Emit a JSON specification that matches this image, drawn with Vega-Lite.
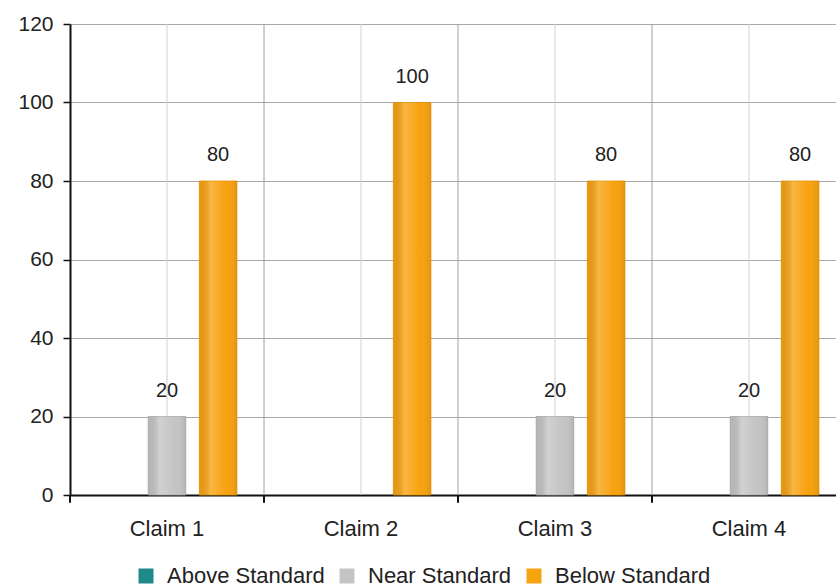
{
  "$schema": "https://vega.github.io/schema/vega-lite/v6.json",
  "width": 766,
  "height": 471,
  "autosize": "none",
  "padding": {"left": 70, "top": 24, "right": 0, "bottom": 93},
  "config": {
    "font": "Liberation Sans",
    "view": {"stroke": null},
    "axis": {"labelColor": "#222222", "labelFont": "Liberation Sans"}
  },
  "data": {
    "values": [
      {"claim": "Claim 1", "level": "Above Standard", "value": 0},
      {"claim": "Claim 1", "level": "Near Standard", "value": 20},
      {"claim": "Claim 1", "level": "Below Standard", "value": 80},
      {"claim": "Claim 2", "level": "Above Standard", "value": 0},
      {"claim": "Claim 2", "level": "Near Standard", "value": 0},
      {"claim": "Claim 2", "level": "Below Standard", "value": 100},
      {"claim": "Claim 3", "level": "Above Standard", "value": 0},
      {"claim": "Claim 3", "level": "Near Standard", "value": 20},
      {"claim": "Claim 3", "level": "Below Standard", "value": 80},
      {"claim": "Claim 4", "level": "Above Standard", "value": 0},
      {"claim": "Claim 4", "level": "Near Standard", "value": 20},
      {"claim": "Claim 4", "level": "Below Standard", "value": 80}
    ]
  },
  "layer": [
    {
      "transform": [{"filter": "datum.level === 'Below Standard'"}],
      "mark": {"type": "rule", "color": "#d0d0d0", "strokeWidth": 1},
      "encoding": {
        "x": {"field": "claim", "type": "nominal", "bandPosition": 0.5,
              "scale": {"range": [0, 776], "paddingInner": 0, "paddingOuter": 0}}
      }
    },
    {
      "transform": [{"filter": "datum.level === 'Below Standard' && datum.claim !== 'Claim 1'"}],
      "mark": {"type": "rule", "color": "#a0a0a0", "strokeWidth": 1},
      "encoding": {
        "x": {"field": "claim", "type": "nominal", "bandPosition": 0,
              "scale": {"range": [0, 776], "paddingInner": 0, "paddingOuter": 0}}
      }
    },
    {
      "transform": [{"filter": "datum.level === 'Below Standard'"}],
      "mark": {"type": "rule", "color": "#111111", "strokeWidth": 2},
      "encoding": {
        "x": {"field": "claim", "type": "nominal", "bandPosition": 0,
              "scale": {"range": [0, 776], "paddingInner": 0, "paddingOuter": 0}},
        "y": {"datum": 0, "type": "quantitative"},
        "y2": {"datum": -2}
      }
    },
    {
      "transform": [{"filter": "datum.value > 0"}],
      "mark": {"type": "bar", "strokeWidth": 0.8},
      "encoding": {
        "x": {
          "field": "claim", "type": "nominal",
          "scale": {"range": [0, 776], "paddingInner": 0, "paddingOuter": 0},
          "axis": {
            "title": null, "labelAngle": 0, "labelAlign": "center", "labelBaseline": "top",
            "labelFontSize": 22, "labelPadding": 23,
            "ticks": false, "grid": false,
            "domainColor": "#111111", "domainWidth": 2
          }
        },
        "xOffset": {
          "field": "level", "type": "nominal",
          "scale": {"domain": ["Above Standard", "Near Standard", "Below Standard"],
                    "paddingInner": 0.265, "paddingOuter": 0.53}
        },
        "y": {
          "field": "value", "type": "quantitative",
          "scale": {"domain": [0, 120], "nice": false},
          "axis": {
            "title": null, "values": [0, 20, 40, 60, 80, 100, 120],
            "labelFontSize": 21, "labelPadding": 10,
            "grid": true, "gridColor": "#a8a8a8", "gridWidth": 1,
            "domainColor": "#111111", "domainWidth": 2,
            "tickColor": "#111111", "tickWidth": 1.5, "tickSize": 7
          }
        },
        "color": {
          "field": "level", "type": "nominal",
          "scale": {
            "domain": ["Above Standard", "Near Standard", "Below Standard"],
            "range": ["#1f8a89", "#c4c4c4", "#f7a20f"]
          },
          "legend": {
            "title": null, "orient": "none", "direction": "horizontal",
            "legendX": 65, "legendY": 541,
            "symbolType": "square", "symbolSize": 225, "symbolStrokeWidth": 0,
            "labelFontSize": 22, "labelColor": "#222222", "labelOffset": 10,
            "columnPadding": 11
          }
        },
        "stroke": {
          "field": "level", "type": "nominal",
          "scale": {
            "domain": ["Above Standard", "Near Standard", "Below Standard"],
            "range": ["#1a7070", "#a8a8a8", "#e39200"]
          },
          "legend": null
        }
      }
    },
    {
      "transform": [{"filter": "datum.value > 0"}],
      "mark": {
        "type": "bar",
        "fill": {
          "gradient": "linear", "x1": 0, "x2": 1, "y1": 0, "y2": 0,
          "stops": [
            {"offset": 0, "color": "rgba(0,0,0,0.06)"},
            {"offset": 0.3, "color": "rgba(255,255,255,0.22)"},
            {"offset": 0.7, "color": "rgba(255,255,255,0.0)"},
            {"offset": 1, "color": "rgba(0,0,0,0.08)"}
          ]
        },
        "strokeWidth": 0
      },
      "encoding": {
        "x": {"field": "claim", "type": "nominal",
              "scale": {"range": [0, 776], "paddingInner": 0, "paddingOuter": 0}},
        "xOffset": {
          "field": "level", "type": "nominal",
          "scale": {"domain": ["Above Standard", "Near Standard", "Below Standard"],
                    "paddingInner": 0.265, "paddingOuter": 0.53}
        },
        "y": {"field": "value", "type": "quantitative"}
      }
    },
    {
      "transform": [{"filter": "datum.value > 0"}],
      "mark": {"type": "text", "baseline": "alphabetic", "dy": -20, "fontSize": 20, "color": "#222222"},
      "encoding": {
        "x": {"field": "claim", "type": "nominal",
              "scale": {"range": [0, 776], "paddingInner": 0, "paddingOuter": 0}},
        "xOffset": {
          "field": "level", "type": "nominal",
          "scale": {"domain": ["Above Standard", "Near Standard", "Below Standard"],
                    "paddingInner": 0.265, "paddingOuter": 0.53}
        },
        "y": {"field": "value", "type": "quantitative"},
        "text": {"field": "value", "type": "quantitative"}
      }
    }
  ]
}
